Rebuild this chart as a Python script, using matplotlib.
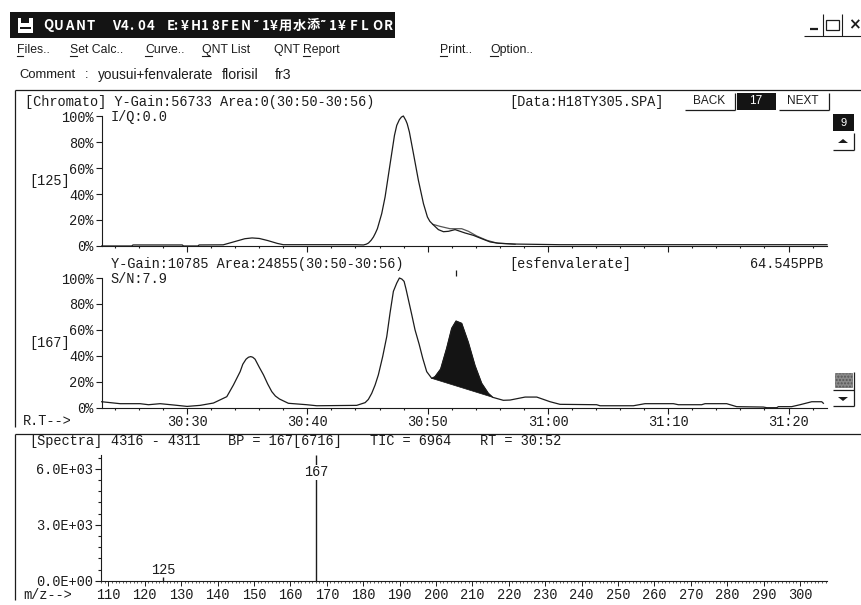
import matplotlib
matplotlib.use('Agg')
import matplotlib.pyplot as plt
from matplotlib.patches import Polygon, Rectangle
from matplotlib.ticker import FuncFormatter, MultipleLocator

W, H = 861, 605
INK = '#1c1c1c'
MONO = 'Liberation Mono'

# retention time in seconds, height in percent
# [125] trace, pieces because the baseline has gaps
t125_a = [1822.9, 1825.4, 1825.5, 1829.6, 1829.7, 1830.9, 1831.0, 1833.0, 1834.0, 1834.8, 1835.4,
          1836.0, 1836.7, 1837.5, 1838.0, 1844.0, 1844.66, 1844.9, 1845.08, 1845.3, 1845.49,
          1845.65, 1845.82, 1846.18, 1846.46, 1846.88, 1847.24, 1847.43, 1847.65, 1847.82,
          1847.98, 1848.18, 1848.3, 1848.48, 1848.82, 1849.23, 1849.65, 1849.98, 1850.18,
          1850.42, 1850.89, 1851.31, 1851.73, 1852.28, 1853.11, 1853.8, 1854.5, 1855.2,
          1855.9, 1857.27, 1861.0, 1883.2]
p125_a = [0.0, 0.0, 0.8, 0.8, 0.0, 0.0, 0.8, 0.9, 3.5, 5.6, 6.2, 5.8, 4.2, 2.0, 1.0, 1.0, 0.8,
          1.4, 2.3, 4.4, 6.9, 9.8, 13.3, 24.9, 37.7, 63.3, 85.1, 92.8, 97.2, 99.2, 100.0, 96.7,
          94.0, 87.7, 71.0, 50.5, 32.6, 22.3, 19.0, 16.7, 12.6, 11.0, 11.3, 12.6, 10.0, 8.2,
          5.6, 3.1, 2.1, 1.5, 1.0, 1.0]
t125_b = [1850.42, 1851.03, 1851.86, 1852.83, 1853.39, 1854.08, 1854.91, 1855.74, 1857.27]
p125_b = [16.7, 15.1, 13.3, 13.3, 11.3, 7.7, 4.4, 2.3, 1.3]

# [167] trace
t167 = [1822.9, 1824.43, 1826.09, 1826.79, 1827.76, 1828.86, 1830.0, 1831.08, 1832.19,
        1833.3, 1833.85, 1834.41, 1834.63, 1834.9, 1835.1, 1835.29, 1835.46, 1835.65, 1836.0,
        1836.35, 1836.7, 1837.04, 1837.34, 1837.68, 1838.42, 1839.95, 1840.78, 1844.1, 1844.8,
        1845.07, 1845.35, 1845.63, 1845.9, 1846.26, 1846.6, 1846.87, 1847.15, 1847.43, 1847.65,
        1847.85, 1848.04, 1848.2, 1848.4, 1848.68, 1848.95, 1849.29, 1849.59, 1849.92, 1850.34,
        1850.61, 1851.08, 1851.58, 1852.0, 1852.36, 1852.83, 1853.38, 1853.94, 1854.49, 1855.05,
        1855.41, 1856.29, 1856.85, 1858.1, 1859.07, 1860.18, 1861.0, 1864.05, 1864.33, 1867.1,
        1868.07, 1870.43, 1870.84, 1872.78, 1873.06, 1874.86, 1875.69, 1877.91, 1878.19,
        1879.02, 1879.16, 1880.26, 1880.96, 1881.93, 1882.76, 1882.9]
p167 = [4.6, 3.1, 3.1, 2.3, 3.1, 2.1, 1.0, 1.8, 3.6, 8.5, 17.5, 27.8, 33.5, 37.4, 38.9, 39.4,
        38.9, 37.4, 31.2, 25.3, 18.3, 12.4, 9.0, 6.7, 3.4, 2.3, 1.5, 1.8, 3.9, 6.4, 11.1, 17.5,
        25.3, 39.4, 54.9, 72.9, 89.7, 96.1, 100.0, 99.2, 97.4, 91.5, 83.2, 71.6, 60.0, 49.0,
        38.1, 27.8, 22.6, 23.9, 29.8, 45.8, 61.2, 66.8, 65.0, 50.4, 32.4, 18.8, 11.0, 8.0, 5.7,
        5.9, 8.2, 8.2, 4.6, 2.6, 2.3, 1.5, 1.5, 3.1, 3.1, 2.3, 2.3, 3.1, 3.1, 0.8, 0.5, 0.0,
        0.0, 0.8, 0.8, 2.3, 4.6, 4.6, 3.4]

# integrated peak, closing the polygon gives the sloped baseline
peak_t = [1850.34, 1850.61, 1851.08, 1851.58, 1852.0, 1852.36, 1852.83, 1853.38, 1853.94,
          1854.49, 1855.05, 1855.41]
peak_p = [22.6, 23.9, 29.8, 45.8, 61.2, 66.8, 65.0, 50.4, 32.4, 18.8, 11.0, 8.0]

# mass spectrum
mz = [125, 167]
intensity = [200, 6716]

pct_ticks = [0, 20, 40, 60, 80, 100]
time_ticks = [1830, 1840, 1850, 1860, 1870, 1880]
mz_ticks = list(range(110, 301, 10))
int_ticks = [0, 3000, 6000]

fig = plt.figure(figsize=(W / 100, H / 100), dpi=100, facecolor='white')

# whole picture in pixel coords for the window parts
ui = fig.add_axes([0, 0, 1, 1])
ui.set_xlim(0, W)
ui.set_ylim(H, 0)
ui.axis('off')


def px_axes(x0, y_top, x1, y_bottom):
    ax = fig.add_axes([x0 / W, 1 - y_bottom / H, (x1 - x0) / W, (y_bottom - y_top) / H])
    ax.patch.set_alpha(0)
    for side in ('top', 'right'):
        ax.spines[side].set_visible(False)
    for side in ('left', 'bottom'):
        ax.spines[side].set_linewidth(0.8)
        ax.spines[side].set_color(INK)
    return ax


def mono(x, y, s, **kw):
    kw.setdefault('color', INK)
    ui.text(x, y, s, family=MONO, fontsize=9.8, va='center', **kw)


def sans(x, y, s, size=8.8, underline=None):
    t = ui.text(x, y, s, family='Liberation Sans', fontsize=size, va='center', color=INK)
    if underline:
        ui.plot(underline, [y + 6, y + 6], color=INK, lw=0.8)
    return t


def seg(xs, ys, lw=0.9, color=INK):
    ui.plot(xs, ys, color=color, lw=lw, solid_capstyle='butt')


def spaced(x, s, step):
    # title bar letters sit further apart than the font does
    for i, ch in enumerate(s):
        ui.text(x + i * step, 25.5, ch, family=['Noto Sans CJK JP', 'DejaVu Sans'], fontsize=9.5,
                fontweight='bold', color='white', va='center')


def chromato_axes(y_top, y_bottom):
    ax = px_axes(101.7, y_top, 827, y_bottom)
    ax.set_xlim(1822.9, 1883.2)
    ax.set_ylim(0, 100)
    ax.set_xticks(time_ticks)
    ax.xaxis.set_minor_locator(MultipleLocator(2))
    ax.set_yticks(pct_ticks)
    ax.set_yticklabels([f'{p}%' for p in pct_ticks], family=MONO, fontsize=9.8, color=INK)
    ax.tick_params(axis='x', which='major', length=4, width=0.8, color=INK)
    ax.tick_params(axis='x', which='minor', length=1.5, width=0.8, color=INK)
    ax.tick_params(axis='y', length=4, width=0.8, pad=2, color=INK)
    return ax


# title bar
ui.add_patch(Rectangle((10, 12), 385, 26, fc='#141414', ec='none'))
ui.add_patch(Rectangle((18, 18), 15, 15, fc='white', ec='none'))
ui.add_patch(Rectangle((21, 18), 8, 5, fc='#141414', ec='none'))
ui.add_patch(Rectangle((20, 27), 11, 2, fc='#141414', ec='none'))
spaced(43, 'QUANT', 11)
spaced(112, 'V4.04', 8.6)
spaced(167, 'E:', 6.5)
spaced(181, '¥', 9)
spaced(191, 'H18FEN', 10)
spaced(253, '˜1¥', 8.5)
spaced(279, '用水添', 13.6)
spaced(320, '˜1¥', 9)
spaced(350, 'FLOR', 11.2)

# window buttons
seg([804, 861], [36, 36], lw=0.8)
seg([810, 818], [28.5, 28.5], lw=1.6)
seg([823, 823], [14, 36], lw=0.8)
seg([842, 842], [14, 36], lw=0.8)
ui.add_patch(Rectangle((825.5, 20), 13.5, 10, fc='none', ec=INK, lw=0.9))
ui.text(854, 25, '×', family='DejaVu Sans', fontsize=11, fontweight='bold', ha='center',
        va='center', color=INK)

# menu
sans(17, 50, 'Files..', underline=[17, 23])
sans(70, 50, 'Set Calc..', underline=[70, 77])
sans(145, 50, 'Curve..', underline=[145, 152])
sans(202, 50, 'QNT List', underline=[202, 210])
sans(274, 50, 'QNT Report', underline=[303, 310])
sans(440, 50, 'Print..', underline=[440, 447])
sans(490, 50, 'Option..', underline=[490, 498])
sans(19, 75, 'Comment', size=9.4)
sans(85, 75, ':', size=9.4)
sans(98, 75, 'yousui+fenvalerate', size=9.8)
sans(222, 75, 'florisil', size=10.2)
sans(275, 75, 'fr3', size=10.2)

# panel frames
seg([15, 861], [89.5, 89.5])
seg([15, 15], [89.5, 427])
seg([15, 861], [433.5, 433.5])
seg([15, 15], [433.5, 600])

# chromato headers
mono(25, 102, '[Chromato] Y-Gain:56733 Area:0(30:50-30:56)')
mono(111, 117, 'I/Q:0.0')
mono(29, 181, '[125]')
mono(509, 102, '[Data:H18TY305.SPA]')
mono(111, 264, 'Y-Gain:10785 Area:24855(30:50-30:56)')
mono(110, 279, 'S/N:7.9')
mono(29, 343, '[167]')
mono(509, 264, '[esfenvalerate]')
mono(750, 264, '64.545PPB')
seg([456, 456], [270, 276], lw=0.9)
mono(23, 421, 'R.T-->')

# BACK / 17 / NEXT
sans(709, 101.5, 'BACK', size=8.5).set_ha('center')
seg([685, 735], [110, 110])
seg([735, 735], [93, 110])
ui.add_patch(Rectangle((737, 93), 39, 17, fc='#141414', ec='none'))
sans(756, 101, '17', size=8.5).set(ha='center', color='white')
sans(803, 101.5, 'NEXT', size=8.5).set_ha('center')
seg([779, 829], [110, 110])
seg([829, 829], [93, 110])

# scroll buttons
ui.add_patch(Rectangle((833, 114), 21, 17, fc='#141414', ec='none'))
sans(843.5, 122.5, '9', size=8).set(ha='center', color='white')
seg([833, 854], [150, 150])
seg([854, 854], [133, 150])
ui.add_patch(Polygon([[838, 143], [848, 143], [843, 139]], fc=INK, ec='none'))
ui.add_patch(Rectangle((835, 373), 17, 14, fc='#8a8a8a', ec='#555555', lw=0.4, hatch='.....'))
seg([833, 854], [390, 390])
seg([854, 854], [372, 406])
seg([833, 854], [406, 406])
ui.add_patch(Polygon([[838, 397], [848, 397], [843, 401]], fc=INK, ec='none'))

# upper chromatogram
ax1 = chromato_axes(116, 246)
ax1.tick_params(axis='x', which='both', labelbottom=False)
ax1.plot(t125_b, p125_b, color='#555555', lw=0.9, clip_on=False)
ax1.plot(t125_a, p125_a, color=INK, lw=0.9, clip_on=False)

# lower chromatogram
ax2 = chromato_axes(278, 407.7)
ax2.xaxis.set_major_formatter(FuncFormatter(lambda s, _: f'{int(s // 60)}:{int(s % 60):02d}'))
for lab in ax2.get_xticklabels():
    lab.set(family=MONO, fontsize=9.8, color=INK)
ax2.tick_params(axis='x', which='major', pad=1)
ax2.plot(t167, p167, color=INK, lw=0.9, clip_on=False)
ax2.fill(peak_t, peak_p, color='#141414', lw=0.5)

# spectrum
mono(29, 441, '[Spectra]')
mono(111, 441, '4316 - 4311')
mono(228, 441, 'BP = 167[6716]')
mono(370, 441, 'TIC = 6964')
mono(480, 441, 'RT = 30:52')
mono(23, 595, 'm/z-->')
ax3 = px_axes(101, 455, 826.7, 580.7)
ax3.set_xlim(108, 307.3)
ax3.set_ylim(0, 6734)
ax3.vlines(mz, 0, intensity, color=INK, lw=1.0)
ax3.text(mz[1], 5800, str(mz[1]), family=MONO, fontsize=9.8, ha='center', va='center', color=INK,
         bbox=dict(fc='white', ec='none', pad=0.6))
ax3.text(mz[0], 600, str(mz[0]), family=MONO, fontsize=9.8, ha='center', va='center', color=INK)
ax3.set_xticks(mz_ticks)
ax3.set_xticklabels([str(m) for m in mz_ticks], family=MONO, fontsize=9.8, color=INK)
ax3.xaxis.set_minor_locator(MultipleLocator(1))
ax3.set_yticks(int_ticks)
ax3.set_yticklabels([f'{v / 1000:.1f}E+{3 if v else 0:02d}' for v in int_ticks], family=MONO,
                    fontsize=9.8, color=INK)
ax3.yaxis.set_minor_locator(MultipleLocator(600))
ax3.tick_params(axis='x', which='major', length=3.5, width=0.7, pad=2, color=INK)
ax3.tick_params(axis='x', which='minor', length=1.5, width=0.5, color=INK)
ax3.tick_params(axis='y', which='major', length=4, width=0.8, pad=2, color=INK)
ax3.tick_params(axis='y', which='minor', length=2, width=0.8, color=INK)

fig.savefig('out.png', dpi=100)
